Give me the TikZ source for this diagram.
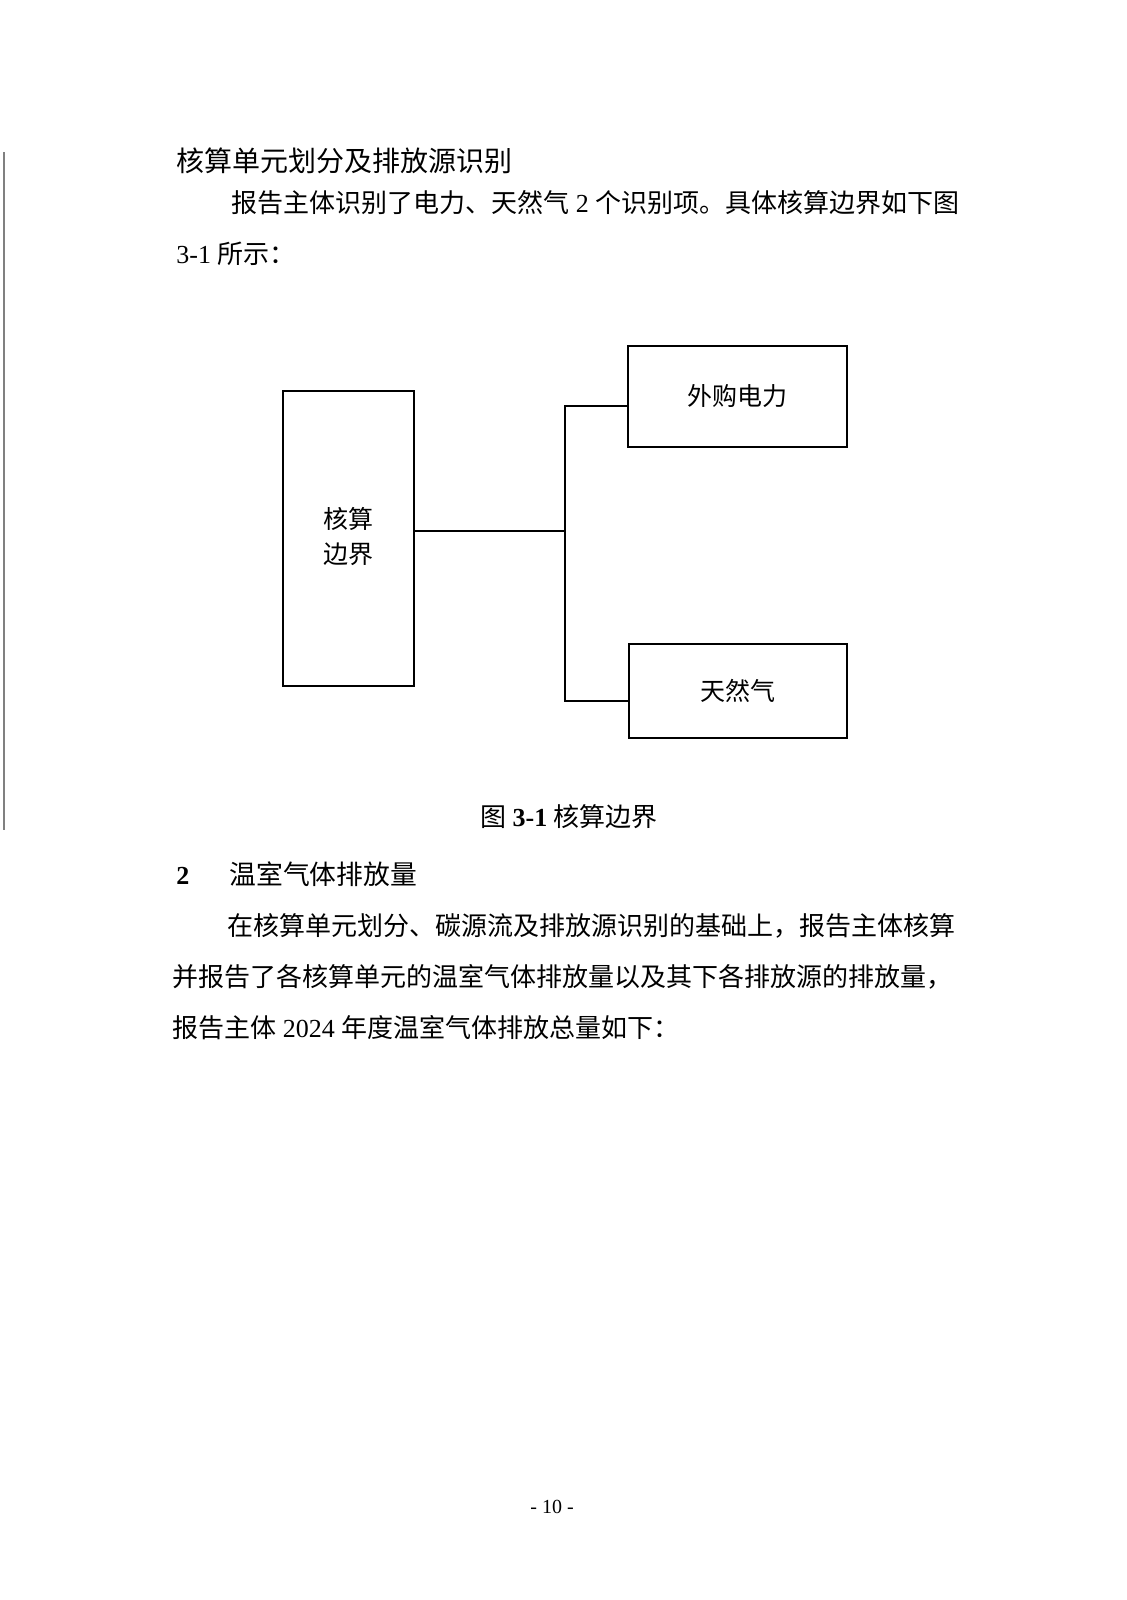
\documentclass[tikz,border=0pt]{standalone}
\usepackage{fontspec}
\setmainfont{Liberation Serif}
\newfontfamily\cjk{Noto Sans CJK SC}
\begin{document}
\begin{tikzpicture}[x=0.5pt,y=-0.5pt,
  txt/.style={anchor=west,inner sep=0pt,text height=0.88em,text depth=0.12em,font=\cjk\fontsize{13}{13}\selectfont},
  htxt/.style={txt,font=\cjk\fontsize{14}{14}\selectfont},
  box/.style={draw,line width=1pt,inner sep=0pt,font=\cjk\fontsize{12.5}{17.5}\selectfont,align=center},
  conn/.style={line width=1pt}]
\useasboundingbox[fill=white] (0,0) rectangle (1126,1600);
% scan edge line
\draw[black!50,line width=0.7pt] (4,152) -- (4,830);
% text above
\node[htxt] (h1) at (176,164) {核算单元划分及排放源识别};
\node[txt] (p1) at (231,205) {报告主体识别了电力、天然气{\rmfamily\ 2\ }个识别项。具体核算边界如下图};
\node[txt] (p2) at (176,256) {{\rmfamily 3-1 }所示：};
% diagram
\node[box,minimum width=65.5pt,minimum height=147.5pt] (L) at (348.5,538.5) {\raisebox{3.5pt}{\begin{tabular}{@{}c@{}}核算\\边界\end{tabular}}};
\node[box,minimum width=109.5pt,minimum height=50.5pt] (A) at (737.5,396.5) {外购电力};
\node[box,minimum width=109pt,minimum height=47pt] (B) at (737.5,691) {天然气};
\coordinate (jm) at (565,531);
\coordinate (jt) at (565,406);
\coordinate (jb) at (565,701);
\draw[conn] (L.east |- jm) -- (jm);
\draw[conn] (jt -| A.west) -- (jt) -- (jb) -- (jb -| B.west);
% caption
\node[txt,anchor=center] (cap) at (569,819) {图{\rmfamily\bfseries\ 3-1\ }核算边界};
% section
\node[txt] (s2n) at (176,877) {\rmfamily\bfseries 2};
\node[txt,font=\cjk\fontsize{13.4}{13.4}\selectfont] (s2) at (229,877) {温室气体排放量};
\node[txt] (q1) at (227,928) {在核算单元划分、碳源流及排放源识别的基础上，报告主体核算};
\node[txt] (q2) at (172,979) {并报告了各核算单元的温室气体排放量以及其下各排放源的排放量，};
\node[txt] (q3) at (172,1030) {报告主体{\rmfamily\ 2024\ }年度温室气体排放总量如下：};
% page number
\node[inner sep=0pt,font=\rmfamily\fontsize{10}{10}\selectfont] (pg) at (552,1507) {- 10 -};
\end{tikzpicture}
\end{document}
